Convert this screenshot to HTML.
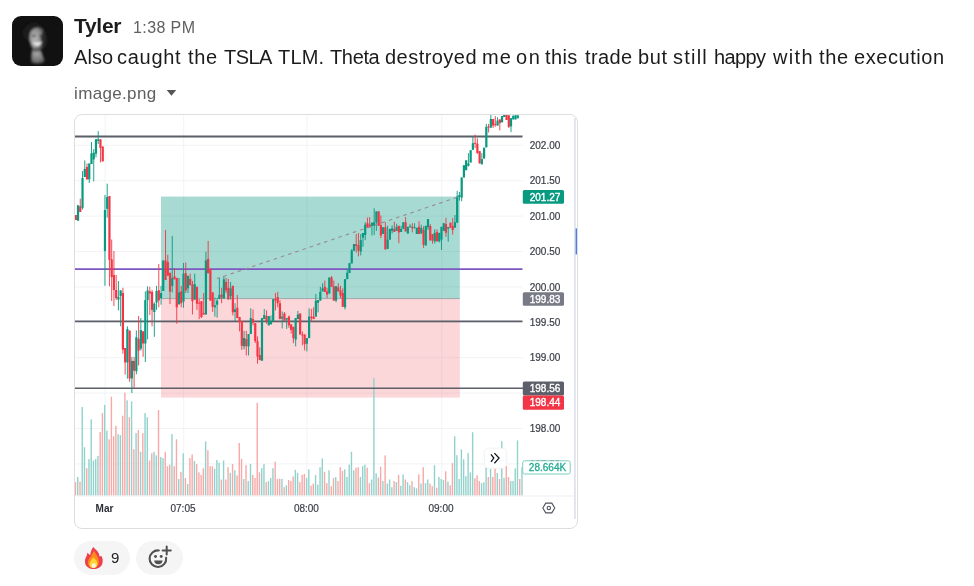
<!DOCTYPE html>
<html><head><meta charset="utf-8"><style>
html,body{margin:0;padding:0;background:#fff;}
body{width:974px;height:586px;overflow:hidden;position:relative;font-family:"Liberation Sans",sans-serif;color:#1d1c1d;}
.a{position:absolute;white-space:nowrap;will-change:transform;}
</style></head><body>
<div class="a" style="left:12px;top:16px;width:51px;height:50px;border-radius:9px;background:#111;overflow:hidden">
<svg width="51" height="50" viewBox="0 0 51 50">
<defs>
<radialGradient id="fg" cx="0.35" cy="0.45" r="0.7"><stop offset="0" stop-color="#b8b8b8"/><stop offset="0.55" stop-color="#8c8c8c"/><stop offset="1" stop-color="#1a1a1a"/></radialGradient>
<radialGradient id="ng" cx="0.4" cy="0.3" r="0.8"><stop offset="0" stop-color="#a8a8a8"/><stop offset="0.7" stop-color="#6a6a6a"/><stop offset="1" stop-color="#151515"/></radialGradient>
<filter id="bl"><feGaussianBlur stdDeviation="0.8"/></filter>
</defs>
<g filter="url(#bl)">
<ellipse cx="22" cy="17" rx="11" ry="10" fill="#1d1d1d"/>
<path d="M17.5 23 Q17 12 25.5 11.5 Q33.5 11.5 33.5 22 Q33.5 31 28.5 34.5 Q24 36 20.5 33 Q17.8 29 17.5 23 Z" fill="url(#fg)"/>
<ellipse cx="31.8" cy="24" rx="3.2" ry="8.5" fill="#222" opacity="0.85"/>
<ellipse cx="22" cy="20" rx="1.8" ry="1.1" fill="#333"/>
<ellipse cx="28.5" cy="20" rx="1.5" ry="1.1" fill="#333"/>
<path d="M20.5 25.8 Q25 27 30 25.6 Q28.5 30 25 30 Q21.8 30 20.5 25.8 Z" fill="#e4e4e4"/>
<path d="M20 33.5 Q24 36.5 29 34.5 L33.5 47 Q26 49 19.5 47 Q18.5 40 20 33.5 Z" fill="url(#ng)"/>
</g>
</svg></div>
<div class="a" style="left:74px;top:15px;font-size:21px;line-height:21px;font-weight:bold;letter-spacing:-0.3px;color:#1d1c1d">Tyler</div>
<div class="a" style="left:133px;top:20px;font-size:16px;line-height:16px;letter-spacing:0.4px;color:#616061">1:38 PM</div>
<div class="a" style="left:74px;top:47px;font-size:20px;line-height:20px;color:#1d1c1d;letter-spacing:0.067px">Also</div>
<div class="a" style="left:117px;top:47px;font-size:20px;line-height:20px;color:#1d1c1d;letter-spacing:0.720px">caught</div>
<div class="a" style="left:188px;top:47px;font-size:20px;line-height:20px;color:#1d1c1d;letter-spacing:0.700px">the</div>
<div class="a" style="left:224px;top:47px;font-size:20px;line-height:20px;color:#1d1c1d;letter-spacing:-0.533px">TSLA</div>
<div class="a" style="left:278px;top:47px;font-size:20px;line-height:20px;color:#1d1c1d;letter-spacing:0.200px">TLM.</div>
<div class="a" style="left:330px;top:47px;font-size:20px;line-height:20px;color:#1d1c1d;letter-spacing:-0.350px">Theta</div>
<div class="a" style="left:385px;top:47px;font-size:20px;line-height:20px;color:#1d1c1d;letter-spacing:0.463px">destroyed</div>
<div class="a" style="left:482px;top:47px;font-size:20px;line-height:20px;color:#1d1c1d;letter-spacing:1.200px">me</div>
<div class="a" style="left:516px;top:47px;font-size:20px;line-height:20px;color:#1d1c1d;letter-spacing:1.700px">on</div>
<div class="a" style="left:545px;top:47px;font-size:20px;line-height:20px;color:#1d1c1d;letter-spacing:0.400px">this</div>
<div class="a" style="left:585px;top:47px;font-size:20px;line-height:20px;color:#1d1c1d;letter-spacing:0.375px">trade</div>
<div class="a" style="left:638px;top:47px;font-size:20px;line-height:20px;color:#1d1c1d;letter-spacing:0.650px">but</div>
<div class="a" style="left:673px;top:47px;font-size:20px;line-height:20px;color:#1d1c1d;letter-spacing:1.225px">still</div>
<div class="a" style="left:714px;top:47px;font-size:20px;line-height:20px;color:#1d1c1d;letter-spacing:-0.600px">happy</div>
<div class="a" style="left:773px;top:47px;font-size:20px;line-height:20px;color:#1d1c1d;letter-spacing:1.333px">with</div>
<div class="a" style="left:819px;top:47px;font-size:20px;line-height:20px;color:#1d1c1d;letter-spacing:0.650px">the</div>
<div class="a" style="left:854px;top:47px;font-size:20px;line-height:20px;color:#1d1c1d;letter-spacing:0.562px">execution</div>
<div class="a" style="left:74px;top:85px;font-size:17px;line-height:17px;letter-spacing:0.35px;color:#616061">image.png</div>
<svg class="a" style="left:0;top:0" width="974" height="586">
<path d="M166.7 89.9 L176.2 89.9 L171.45 95.8 Z" fill="#555"/>
</svg>
<div class="a" style="left:74px;top:114px;width:502px;height:413px;border:1px solid #dddddd;border-radius:8px;overflow:hidden;background:#fff">
<svg width="502" height="413" viewBox="75 115 502 413" style="display:block;font-family:'Liberation Sans',sans-serif">
<defs><filter id="sh" x="-50%" y="-50%" width="200%" height="200%"><feGaussianBlur stdDeviation="1.2"/></filter></defs>
<line x1="75" y1="145.3" x2="523" y2="145.3" stroke="#f2f3f6" stroke-width="1"/>
<line x1="75" y1="180.7" x2="523" y2="180.7" stroke="#f2f3f6" stroke-width="1"/>
<line x1="75" y1="216.1" x2="523" y2="216.1" stroke="#f2f3f6" stroke-width="1"/>
<line x1="75" y1="251.5" x2="523" y2="251.5" stroke="#f2f3f6" stroke-width="1"/>
<line x1="75" y1="286.9" x2="523" y2="286.9" stroke="#f2f3f6" stroke-width="1"/>
<line x1="75" y1="322.3" x2="523" y2="322.3" stroke="#f2f3f6" stroke-width="1"/>
<line x1="75" y1="357.7" x2="523" y2="357.7" stroke="#f2f3f6" stroke-width="1"/>
<line x1="75" y1="393.1" x2="523" y2="393.1" stroke="#f2f3f6" stroke-width="1"/>
<line x1="75" y1="428.5" x2="523" y2="428.5" stroke="#f2f3f6" stroke-width="1"/>
<line x1="75" y1="463.9" x2="523" y2="463.9" stroke="#f2f3f6" stroke-width="1"/>
<line x1="105.2" y1="115" x2="105.2" y2="496" stroke="#f2f3f6" stroke-width="1"/>
<line x1="183.7" y1="115" x2="183.7" y2="496" stroke="#f2f3f6" stroke-width="1"/>
<line x1="306.9" y1="115" x2="306.9" y2="496" stroke="#f2f3f6" stroke-width="1"/>
<line x1="441.8" y1="115" x2="441.8" y2="496" stroke="#f2f3f6" stroke-width="1"/>
<rect x="161" y="196.6" width="298.8" height="102" fill="#089981" fill-opacity="0.36"/>
<rect x="161" y="298.6" width="298.8" height="99" fill="#f23645" fill-opacity="0.2"/>
<line x1="161" y1="298.6" x2="459.8" y2="298.6" stroke="#787b86" stroke-opacity="0.55" stroke-width="1"/>
<rect x="74.80" y="482.1" width="1.4" height="13.5" fill="#f7a9a7"/>
<rect x="77.04" y="477.0" width="1.4" height="18.6" fill="#92d2cc"/>
<rect x="79.29" y="481.6" width="1.4" height="14.0" fill="#f7a9a7"/>
<rect x="81.53" y="407.0" width="1.4" height="88.6" fill="#92d2cc"/>
<rect x="83.77" y="447.2" width="1.4" height="48.4" fill="#92d2cc"/>
<rect x="86.02" y="468.2" width="1.4" height="27.4" fill="#f7a9a7"/>
<rect x="88.26" y="459.0" width="1.4" height="36.6" fill="#92d2cc"/>
<rect x="90.51" y="419.3" width="1.4" height="76.3" fill="#92d2cc"/>
<rect x="92.75" y="460.5" width="1.4" height="35.1" fill="#92d2cc"/>
<rect x="94.99" y="459.0" width="1.4" height="36.6" fill="#92d2cc"/>
<rect x="97.24" y="455.9" width="1.4" height="39.7" fill="#92d2cc"/>
<rect x="99.48" y="432.1" width="1.4" height="63.5" fill="#f7a9a7"/>
<rect x="101.72" y="413.1" width="1.4" height="82.5" fill="#f7a9a7"/>
<rect x="103.97" y="404.9" width="1.4" height="90.7" fill="#92d2cc"/>
<rect x="106.21" y="430.6" width="1.4" height="65.0" fill="#92d2cc"/>
<rect x="108.45" y="439.3" width="1.4" height="56.3" fill="#f7a9a7"/>
<rect x="110.70" y="396.7" width="1.4" height="98.9" fill="#f7a9a7"/>
<rect x="112.94" y="436.2" width="1.4" height="59.4" fill="#f7a9a7"/>
<rect x="115.18" y="425.9" width="1.4" height="69.7" fill="#f7a9a7"/>
<rect x="117.43" y="434.1" width="1.4" height="61.5" fill="#92d2cc"/>
<rect x="119.67" y="435.2" width="1.4" height="60.4" fill="#92d2cc"/>
<rect x="121.92" y="415.7" width="1.4" height="79.9" fill="#f7a9a7"/>
<rect x="124.16" y="392.6" width="1.4" height="103.0" fill="#f7a9a7"/>
<rect x="126.40" y="400.3" width="1.4" height="95.3" fill="#92d2cc"/>
<rect x="128.65" y="417.2" width="1.4" height="78.4" fill="#f7a9a7"/>
<rect x="130.89" y="401.3" width="1.4" height="94.3" fill="#92d2cc"/>
<rect x="133.13" y="449.2" width="1.4" height="46.4" fill="#f7a9a7"/>
<rect x="135.38" y="433.1" width="1.4" height="62.5" fill="#92d2cc"/>
<rect x="137.62" y="430.0" width="1.4" height="65.6" fill="#f7a9a7"/>
<rect x="139.86" y="451.8" width="1.4" height="43.8" fill="#92d2cc"/>
<rect x="142.11" y="433.1" width="1.4" height="62.5" fill="#f7a9a7"/>
<rect x="144.35" y="413.1" width="1.4" height="82.5" fill="#92d2cc"/>
<rect x="146.60" y="417.2" width="1.4" height="78.4" fill="#92d2cc"/>
<rect x="148.84" y="460.5" width="1.4" height="35.1" fill="#f7a9a7"/>
<rect x="151.08" y="453.3" width="1.4" height="42.3" fill="#f7a9a7"/>
<rect x="153.33" y="451.8" width="1.4" height="43.8" fill="#92d2cc"/>
<rect x="155.57" y="455.4" width="1.4" height="40.2" fill="#92d2cc"/>
<rect x="157.81" y="410.0" width="1.4" height="85.6" fill="#f7a9a7"/>
<rect x="160.06" y="456.9" width="1.4" height="38.7" fill="#92d2cc"/>
<rect x="162.30" y="458.0" width="1.4" height="37.6" fill="#92d2cc"/>
<rect x="164.54" y="451.8" width="1.4" height="43.8" fill="#f7a9a7"/>
<rect x="166.79" y="466.2" width="1.4" height="29.4" fill="#f7a9a7"/>
<rect x="169.03" y="464.6" width="1.4" height="31.0" fill="#f7a9a7"/>
<rect x="171.27" y="434.1" width="1.4" height="61.5" fill="#92d2cc"/>
<rect x="173.52" y="466.2" width="1.4" height="29.4" fill="#f7a9a7"/>
<rect x="175.76" y="439.3" width="1.4" height="56.3" fill="#f7a9a7"/>
<rect x="178.01" y="479.0" width="1.4" height="16.6" fill="#92d2cc"/>
<rect x="180.25" y="471.8" width="1.4" height="23.8" fill="#f7a9a7"/>
<rect x="182.49" y="453.3" width="1.4" height="42.3" fill="#92d2cc"/>
<rect x="184.74" y="478.0" width="1.4" height="17.6" fill="#f7a9a7"/>
<rect x="186.98" y="484.1" width="1.4" height="11.5" fill="#92d2cc"/>
<rect x="189.22" y="458.0" width="1.4" height="37.6" fill="#f7a9a7"/>
<rect x="191.47" y="454.4" width="1.4" height="41.2" fill="#f7a9a7"/>
<rect x="193.71" y="461.0" width="1.4" height="34.6" fill="#92d2cc"/>
<rect x="195.95" y="464.1" width="1.4" height="31.5" fill="#f7a9a7"/>
<rect x="198.20" y="472.3" width="1.4" height="23.3" fill="#f7a9a7"/>
<rect x="200.44" y="474.9" width="1.4" height="20.7" fill="#f7a9a7"/>
<rect x="202.69" y="468.2" width="1.4" height="27.4" fill="#f7a9a7"/>
<rect x="204.93" y="441.4" width="1.4" height="54.2" fill="#92d2cc"/>
<rect x="207.17" y="450.3" width="1.4" height="45.3" fill="#f7a9a7"/>
<rect x="209.42" y="466.2" width="1.4" height="29.4" fill="#f7a9a7"/>
<rect x="211.66" y="466.2" width="1.4" height="29.4" fill="#f7a9a7"/>
<rect x="213.90" y="468.7" width="1.4" height="26.9" fill="#92d2cc"/>
<rect x="216.15" y="460.0" width="1.4" height="35.6" fill="#92d2cc"/>
<rect x="218.39" y="462.6" width="1.4" height="33.0" fill="#92d2cc"/>
<rect x="220.63" y="479.5" width="1.4" height="16.1" fill="#f7a9a7"/>
<rect x="222.88" y="460.5" width="1.4" height="35.1" fill="#92d2cc"/>
<rect x="225.12" y="479.5" width="1.4" height="16.1" fill="#f7a9a7"/>
<rect x="227.36" y="467.2" width="1.4" height="28.4" fill="#f7a9a7"/>
<rect x="229.61" y="472.9" width="1.4" height="22.7" fill="#92d2cc"/>
<rect x="231.85" y="464.1" width="1.4" height="31.5" fill="#f7a9a7"/>
<rect x="234.10" y="470.3" width="1.4" height="25.3" fill="#92d2cc"/>
<rect x="236.34" y="475.4" width="1.4" height="20.2" fill="#f7a9a7"/>
<rect x="238.58" y="443.0" width="1.4" height="52.6" fill="#f7a9a7"/>
<rect x="240.83" y="459.0" width="1.4" height="36.6" fill="#f7a9a7"/>
<rect x="243.07" y="479.0" width="1.4" height="16.6" fill="#92d2cc"/>
<rect x="245.31" y="465.2" width="1.4" height="30.4" fill="#f7a9a7"/>
<rect x="247.56" y="481.1" width="1.4" height="14.5" fill="#92d2cc"/>
<rect x="249.80" y="464.1" width="1.4" height="31.5" fill="#92d2cc"/>
<rect x="252.04" y="474.9" width="1.4" height="20.7" fill="#f7a9a7"/>
<rect x="254.29" y="478.0" width="1.4" height="17.6" fill="#f7a9a7"/>
<rect x="256.53" y="402.8" width="1.4" height="92.8" fill="#f7a9a7"/>
<rect x="258.78" y="472.3" width="1.4" height="23.3" fill="#f7a9a7"/>
<rect x="261.02" y="468.2" width="1.4" height="27.4" fill="#92d2cc"/>
<rect x="263.26" y="464.1" width="1.4" height="31.5" fill="#92d2cc"/>
<rect x="265.51" y="482.1" width="1.4" height="13.5" fill="#f7a9a7"/>
<rect x="267.75" y="481.1" width="1.4" height="14.5" fill="#92d2cc"/>
<rect x="269.99" y="478.0" width="1.4" height="17.6" fill="#92d2cc"/>
<rect x="272.24" y="468.2" width="1.4" height="27.4" fill="#92d2cc"/>
<rect x="274.48" y="461.6" width="1.4" height="34.0" fill="#f7a9a7"/>
<rect x="276.72" y="479.0" width="1.4" height="16.6" fill="#f7a9a7"/>
<rect x="278.97" y="478.8" width="1.4" height="16.8" fill="#f7a9a7"/>
<rect x="281.21" y="478.8" width="1.4" height="16.8" fill="#92d2cc"/>
<rect x="283.45" y="487.2" width="1.4" height="8.4" fill="#f7a9a7"/>
<rect x="285.70" y="485.2" width="1.4" height="10.4" fill="#92d2cc"/>
<rect x="287.94" y="480.0" width="1.4" height="15.6" fill="#f7a9a7"/>
<rect x="290.19" y="481.1" width="1.4" height="14.5" fill="#f7a9a7"/>
<rect x="292.43" y="476.4" width="1.4" height="19.2" fill="#f7a9a7"/>
<rect x="294.67" y="469.8" width="1.4" height="25.8" fill="#92d2cc"/>
<rect x="296.92" y="472.9" width="1.4" height="22.7" fill="#92d2cc"/>
<rect x="299.16" y="482.1" width="1.4" height="13.5" fill="#f7a9a7"/>
<rect x="301.40" y="474.9" width="1.4" height="20.7" fill="#f7a9a7"/>
<rect x="303.65" y="473.9" width="1.4" height="21.7" fill="#f7a9a7"/>
<rect x="305.89" y="478.0" width="1.4" height="17.6" fill="#92d2cc"/>
<rect x="308.13" y="469.3" width="1.4" height="26.3" fill="#92d2cc"/>
<rect x="310.38" y="485.7" width="1.4" height="9.9" fill="#f7a9a7"/>
<rect x="312.62" y="483.6" width="1.4" height="12.0" fill="#f7a9a7"/>
<rect x="314.87" y="474.9" width="1.4" height="20.7" fill="#92d2cc"/>
<rect x="317.11" y="484.7" width="1.4" height="10.9" fill="#92d2cc"/>
<rect x="319.35" y="467.2" width="1.4" height="28.4" fill="#92d2cc"/>
<rect x="321.60" y="458.5" width="1.4" height="37.1" fill="#92d2cc"/>
<rect x="323.84" y="471.8" width="1.4" height="23.8" fill="#f7a9a7"/>
<rect x="326.08" y="483.1" width="1.4" height="12.5" fill="#f7a9a7"/>
<rect x="328.33" y="470.3" width="1.4" height="25.3" fill="#92d2cc"/>
<rect x="330.57" y="486.2" width="1.4" height="9.4" fill="#f7a9a7"/>
<rect x="332.81" y="478.0" width="1.4" height="17.6" fill="#f7a9a7"/>
<rect x="335.06" y="477.0" width="1.4" height="18.6" fill="#92d2cc"/>
<rect x="337.30" y="481.1" width="1.4" height="14.5" fill="#f7a9a7"/>
<rect x="339.54" y="467.2" width="1.4" height="28.4" fill="#f7a9a7"/>
<rect x="341.79" y="470.8" width="1.4" height="24.8" fill="#f7a9a7"/>
<rect x="344.03" y="469.3" width="1.4" height="26.3" fill="#92d2cc"/>
<rect x="346.28" y="477.0" width="1.4" height="18.6" fill="#92d2cc"/>
<rect x="348.52" y="464.6" width="1.4" height="31.0" fill="#92d2cc"/>
<rect x="350.76" y="451.8" width="1.4" height="43.8" fill="#92d2cc"/>
<rect x="353.01" y="470.3" width="1.4" height="25.3" fill="#92d2cc"/>
<rect x="355.25" y="467.7" width="1.4" height="27.9" fill="#f7a9a7"/>
<rect x="357.49" y="467.2" width="1.4" height="28.4" fill="#f7a9a7"/>
<rect x="359.74" y="477.0" width="1.4" height="18.6" fill="#92d2cc"/>
<rect x="361.98" y="466.2" width="1.4" height="29.4" fill="#92d2cc"/>
<rect x="364.22" y="464.6" width="1.4" height="31.0" fill="#92d2cc"/>
<rect x="366.47" y="467.7" width="1.4" height="27.9" fill="#f7a9a7"/>
<rect x="368.71" y="483.1" width="1.4" height="12.5" fill="#f7a9a7"/>
<rect x="370.96" y="479.5" width="1.4" height="16.1" fill="#92d2cc"/>
<rect x="373.20" y="378.0" width="1.4" height="117.6" fill="#92d2cc"/>
<rect x="375.44" y="473.4" width="1.4" height="22.2" fill="#92d2cc"/>
<rect x="377.69" y="477.5" width="1.4" height="18.1" fill="#f7a9a7"/>
<rect x="379.93" y="466.7" width="1.4" height="28.9" fill="#f7a9a7"/>
<rect x="382.17" y="481.1" width="1.4" height="14.5" fill="#92d2cc"/>
<rect x="384.42" y="455.4" width="1.4" height="40.2" fill="#f7a9a7"/>
<rect x="386.66" y="483.6" width="1.4" height="12.0" fill="#92d2cc"/>
<rect x="388.90" y="479.5" width="1.4" height="16.1" fill="#92d2cc"/>
<rect x="391.15" y="487.2" width="1.4" height="8.4" fill="#92d2cc"/>
<rect x="393.39" y="481.1" width="1.4" height="14.5" fill="#f7a9a7"/>
<rect x="395.63" y="482.1" width="1.4" height="13.5" fill="#92d2cc"/>
<rect x="397.88" y="474.9" width="1.4" height="20.7" fill="#f7a9a7"/>
<rect x="400.12" y="485.7" width="1.4" height="9.9" fill="#92d2cc"/>
<rect x="402.37" y="474.4" width="1.4" height="21.2" fill="#92d2cc"/>
<rect x="404.61" y="479.5" width="1.4" height="16.1" fill="#f7a9a7"/>
<rect x="406.85" y="482.1" width="1.4" height="13.5" fill="#92d2cc"/>
<rect x="409.10" y="485.2" width="1.4" height="10.4" fill="#92d2cc"/>
<rect x="411.34" y="481.1" width="1.4" height="14.5" fill="#f7a9a7"/>
<rect x="413.58" y="487.2" width="1.4" height="8.4" fill="#92d2cc"/>
<rect x="415.83" y="488.3" width="1.4" height="7.3" fill="#92d2cc"/>
<rect x="418.07" y="474.4" width="1.4" height="21.2" fill="#f7a9a7"/>
<rect x="420.31" y="483.6" width="1.4" height="12.0" fill="#92d2cc"/>
<rect x="422.56" y="467.2" width="1.4" height="28.4" fill="#f7a9a7"/>
<rect x="424.80" y="483.1" width="1.4" height="12.5" fill="#92d2cc"/>
<rect x="427.05" y="479.5" width="1.4" height="16.1" fill="#92d2cc"/>
<rect x="429.29" y="483.6" width="1.4" height="12.0" fill="#f7a9a7"/>
<rect x="431.53" y="486.2" width="1.4" height="9.4" fill="#f7a9a7"/>
<rect x="433.78" y="465.2" width="1.4" height="30.4" fill="#92d2cc"/>
<rect x="436.02" y="487.7" width="1.4" height="7.9" fill="#f7a9a7"/>
<rect x="438.26" y="477.0" width="1.4" height="18.6" fill="#92d2cc"/>
<rect x="440.51" y="479.0" width="1.4" height="16.6" fill="#92d2cc"/>
<rect x="442.75" y="480.0" width="1.4" height="15.6" fill="#92d2cc"/>
<rect x="444.99" y="471.3" width="1.4" height="24.3" fill="#f7a9a7"/>
<rect x="447.24" y="481.6" width="1.4" height="14.0" fill="#92d2cc"/>
<rect x="449.48" y="485.2" width="1.4" height="10.4" fill="#f7a9a7"/>
<rect x="451.72" y="463.1" width="1.4" height="32.5" fill="#f7a9a7"/>
<rect x="453.97" y="436.3" width="1.4" height="59.3" fill="#92d2cc"/>
<rect x="456.21" y="455.2" width="1.4" height="40.4" fill="#92d2cc"/>
<rect x="458.46" y="479.0" width="1.4" height="16.6" fill="#92d2cc"/>
<rect x="460.70" y="449.4" width="1.4" height="46.2" fill="#92d2cc"/>
<rect x="462.94" y="459.3" width="1.4" height="36.3" fill="#92d2cc"/>
<rect x="465.19" y="476.1" width="1.4" height="19.5" fill="#92d2cc"/>
<rect x="467.43" y="453.1" width="1.4" height="42.5" fill="#92d2cc"/>
<rect x="469.67" y="472.4" width="1.4" height="23.2" fill="#92d2cc"/>
<rect x="471.92" y="432.2" width="1.4" height="63.4" fill="#92d2cc"/>
<rect x="474.16" y="478.2" width="1.4" height="17.4" fill="#f7a9a7"/>
<rect x="476.40" y="475.3" width="1.4" height="20.3" fill="#f7a9a7"/>
<rect x="478.65" y="481.1" width="1.4" height="14.5" fill="#f7a9a7"/>
<rect x="480.89" y="483.1" width="1.4" height="12.5" fill="#92d2cc"/>
<rect x="483.14" y="482.3" width="1.4" height="13.3" fill="#92d2cc"/>
<rect x="485.38" y="467.5" width="1.4" height="28.1" fill="#92d2cc"/>
<rect x="487.62" y="477.0" width="1.4" height="18.6" fill="#f7a9a7"/>
<rect x="489.87" y="469.2" width="1.4" height="26.4" fill="#92d2cc"/>
<rect x="492.11" y="477.0" width="1.4" height="18.6" fill="#f7a9a7"/>
<rect x="494.35" y="468.7" width="1.4" height="26.9" fill="#f7a9a7"/>
<rect x="496.60" y="472.9" width="1.4" height="22.7" fill="#92d2cc"/>
<rect x="498.84" y="479.0" width="1.4" height="16.6" fill="#f7a9a7"/>
<rect x="501.08" y="441.2" width="1.4" height="54.4" fill="#92d2cc"/>
<rect x="503.33" y="477.8" width="1.4" height="17.8" fill="#92d2cc"/>
<rect x="505.57" y="465.9" width="1.4" height="29.7" fill="#f7a9a7"/>
<rect x="507.81" y="477.0" width="1.4" height="18.6" fill="#f7a9a7"/>
<rect x="510.06" y="481.1" width="1.4" height="14.5" fill="#92d2cc"/>
<rect x="512.30" y="481.1" width="1.4" height="14.5" fill="#92d2cc"/>
<rect x="514.55" y="468.3" width="1.4" height="27.3" fill="#92d2cc"/>
<rect x="516.79" y="440.4" width="1.4" height="55.2" fill="#92d2cc"/>
<rect x="519.03" y="479.0" width="1.4" height="16.6" fill="#f7a9a7"/>
<rect x="521.28" y="467.1" width="1.4" height="28.5" fill="#92d2cc"/>
<line x1="75" y1="136.5" x2="522.5" y2="136.5" stroke="#5d5f68" stroke-width="1.8"/>
<line x1="75" y1="321.4" x2="522.5" y2="321.4" stroke="#5d5f68" stroke-width="1.8"/>
<line x1="75" y1="388.2" x2="523" y2="388.2" stroke="#5d5f68" stroke-width="1.6"/>
<line x1="75" y1="269.1" x2="522.5" y2="269.1" stroke="#7e57c2" stroke-width="1.6"/>
<rect x="75.28" y="215.0" width="1" height="5.0" fill="#f23645" fill-opacity="0.9"/>
<rect x="74.68" y="215.0" width="2.2" height="5.0" fill="#f23645"/>
<rect x="77.53" y="205.3" width="1" height="15.4" fill="#089981" fill-opacity="0.9"/>
<rect x="76.93" y="205.3" width="2.2" height="15.4" fill="#089981"/>
<rect x="79.77" y="198.6" width="1" height="13.4" fill="#f23645" fill-opacity="0.9"/>
<rect x="79.17" y="206.3" width="2.2" height="5.7" fill="#f23645"/>
<rect x="82.02" y="171.0" width="1" height="38.5" fill="#089981" fill-opacity="0.9"/>
<rect x="81.42" y="178.0" width="2.2" height="29.8" fill="#089981"/>
<rect x="84.26" y="160.4" width="1" height="16.6" fill="#089981" fill-opacity="0.9"/>
<rect x="83.66" y="169.0" width="2.2" height="8.0" fill="#089981"/>
<rect x="86.50" y="163.5" width="1" height="15.9" fill="#f23645" fill-opacity="0.9"/>
<rect x="85.90" y="167.0" width="2.2" height="12.4" fill="#f23645"/>
<rect x="88.75" y="163.5" width="1" height="19.5" fill="#089981" fill-opacity="0.9"/>
<rect x="88.15" y="163.5" width="2.2" height="15.9" fill="#089981"/>
<rect x="90.99" y="142.0" width="1" height="22.0" fill="#089981" fill-opacity="0.9"/>
<rect x="90.39" y="153.2" width="2.2" height="10.8" fill="#089981"/>
<rect x="93.23" y="149.0" width="1" height="32.4" fill="#089981" fill-opacity="0.9"/>
<rect x="92.63" y="152.7" width="2.2" height="6.7" fill="#089981"/>
<rect x="95.48" y="139.3" width="1" height="18.0" fill="#089981" fill-opacity="0.9"/>
<rect x="94.88" y="139.3" width="2.2" height="14.4" fill="#089981"/>
<rect x="97.72" y="131.1" width="1" height="12.9" fill="#089981" fill-opacity="0.9"/>
<rect x="97.12" y="139.3" width="2.2" height="1.7" fill="#089981"/>
<rect x="99.96" y="139.3" width="1" height="23.1" fill="#f23645" fill-opacity="0.9"/>
<rect x="99.36" y="139.3" width="2.2" height="8.7" fill="#f23645"/>
<rect x="102.21" y="146.5" width="1" height="14.9" fill="#f23645" fill-opacity="0.9"/>
<rect x="101.61" y="146.5" width="2.2" height="14.9" fill="#f23645"/>
<rect x="104.45" y="195.0" width="1" height="90.8" fill="#089981" fill-opacity="0.9"/>
<rect x="103.85" y="210.0" width="2.2" height="41.0" fill="#089981"/>
<rect x="106.69" y="183.7" width="1" height="33.9" fill="#089981" fill-opacity="0.9"/>
<rect x="106.09" y="197.0" width="2.2" height="11.9" fill="#089981"/>
<rect x="108.94" y="196.0" width="1" height="90.3" fill="#f23645" fill-opacity="0.9"/>
<rect x="108.34" y="196.0" width="2.2" height="63.9" fill="#f23645"/>
<rect x="111.18" y="239.5" width="1" height="61.5" fill="#f23645" fill-opacity="0.9"/>
<rect x="110.58" y="259.3" width="2.2" height="17.8" fill="#f23645"/>
<rect x="113.42" y="251.0" width="1" height="55.0" fill="#f23645" fill-opacity="0.9"/>
<rect x="112.82" y="275.0" width="2.2" height="15.0" fill="#f23645"/>
<rect x="115.67" y="275.0" width="1" height="25.0" fill="#f23645" fill-opacity="0.9"/>
<rect x="115.07" y="290.0" width="2.2" height="8.2" fill="#f23645"/>
<rect x="117.91" y="281.0" width="1" height="29.4" fill="#089981" fill-opacity="0.9"/>
<rect x="117.31" y="296.8" width="2.2" height="2.8" fill="#089981"/>
<rect x="120.15" y="290.4" width="1" height="35.9" fill="#089981" fill-opacity="0.9"/>
<rect x="119.55" y="290.4" width="2.2" height="5.6" fill="#089981"/>
<rect x="122.40" y="287.8" width="1" height="65.9" fill="#f23645" fill-opacity="0.9"/>
<rect x="121.80" y="293.0" width="2.2" height="56.6" fill="#f23645"/>
<rect x="124.64" y="348.0" width="1" height="26.6" fill="#f23645" fill-opacity="0.9"/>
<rect x="124.04" y="348.0" width="2.2" height="14.4" fill="#f23645"/>
<rect x="126.89" y="326.3" width="1" height="52.4" fill="#089981" fill-opacity="0.9"/>
<rect x="126.29" y="329.0" width="2.2" height="33.4" fill="#089981"/>
<rect x="129.13" y="330.6" width="1" height="51.2" fill="#f23645" fill-opacity="0.9"/>
<rect x="128.53" y="330.6" width="2.2" height="47.8" fill="#f23645"/>
<rect x="131.37" y="356.8" width="1" height="36.3" fill="#089981" fill-opacity="0.9"/>
<rect x="130.77" y="360.9" width="2.2" height="17.5" fill="#089981"/>
<rect x="133.62" y="356.8" width="1" height="32.2" fill="#f23645" fill-opacity="0.9"/>
<rect x="133.02" y="360.9" width="2.2" height="9.8" fill="#f23645"/>
<rect x="135.86" y="330.5" width="1" height="43.8" fill="#089981" fill-opacity="0.9"/>
<rect x="135.26" y="337.3" width="2.2" height="33.9" fill="#089981"/>
<rect x="138.10" y="316.0" width="1" height="49.5" fill="#f23645" fill-opacity="0.9"/>
<rect x="137.50" y="338.8" width="2.2" height="11.8" fill="#f23645"/>
<rect x="140.35" y="318.0" width="1" height="32.6" fill="#089981" fill-opacity="0.9"/>
<rect x="139.75" y="330.1" width="2.2" height="18.5" fill="#089981"/>
<rect x="142.59" y="331.0" width="1" height="25.8" fill="#f23645" fill-opacity="0.9"/>
<rect x="141.99" y="331.4" width="2.2" height="12.1" fill="#f23645"/>
<rect x="144.83" y="291.4" width="1" height="70.6" fill="#089981" fill-opacity="0.9"/>
<rect x="144.23" y="300.1" width="2.2" height="43.4" fill="#089981"/>
<rect x="147.08" y="286.3" width="1" height="53.0" fill="#089981" fill-opacity="0.9"/>
<rect x="146.48" y="290.4" width="2.2" height="9.7" fill="#089981"/>
<rect x="149.32" y="286.8" width="1" height="28.2" fill="#f23645" fill-opacity="0.9"/>
<rect x="148.72" y="291.4" width="2.2" height="2.1" fill="#f23645"/>
<rect x="151.56" y="289.9" width="1" height="36.4" fill="#f23645" fill-opacity="0.9"/>
<rect x="150.96" y="291.9" width="2.2" height="18.0" fill="#f23645"/>
<rect x="153.81" y="302.2" width="1" height="34.6" fill="#089981" fill-opacity="0.9"/>
<rect x="153.21" y="303.7" width="2.2" height="8.3" fill="#089981"/>
<rect x="156.05" y="285.8" width="1" height="24.1" fill="#089981" fill-opacity="0.9"/>
<rect x="155.45" y="291.0" width="2.2" height="11.5" fill="#089981"/>
<rect x="158.29" y="264.0" width="1" height="43.3" fill="#f23645" fill-opacity="0.9"/>
<rect x="157.69" y="290.2" width="2.2" height="10.2" fill="#f23645"/>
<rect x="160.54" y="285.9" width="1" height="18.8" fill="#089981" fill-opacity="0.9"/>
<rect x="159.94" y="293.0" width="2.2" height="5.2" fill="#089981"/>
<rect x="162.78" y="260.5" width="1" height="30.5" fill="#089981" fill-opacity="0.9"/>
<rect x="162.18" y="260.5" width="2.2" height="30.5" fill="#089981"/>
<rect x="165.02" y="230.0" width="1" height="50.0" fill="#f23645" fill-opacity="0.9"/>
<rect x="164.42" y="260.5" width="2.2" height="19.5" fill="#f23645"/>
<rect x="167.27" y="254.7" width="1" height="21.0" fill="#f23645" fill-opacity="0.9"/>
<rect x="166.67" y="262.0" width="2.2" height="13.7" fill="#f23645"/>
<rect x="169.51" y="272.8" width="1" height="31.2" fill="#f23645" fill-opacity="0.9"/>
<rect x="168.91" y="272.8" width="2.2" height="18.9" fill="#f23645"/>
<rect x="171.75" y="235.9" width="1" height="56.5" fill="#089981" fill-opacity="0.9"/>
<rect x="171.16" y="277.9" width="2.2" height="8.0" fill="#089981"/>
<rect x="174.00" y="268.5" width="1" height="10.8" fill="#f23645" fill-opacity="0.9"/>
<rect x="173.40" y="276.4" width="2.2" height="2.9" fill="#f23645"/>
<rect x="176.24" y="277.9" width="1" height="45.8" fill="#f23645" fill-opacity="0.9"/>
<rect x="175.64" y="277.9" width="2.2" height="29.4" fill="#f23645"/>
<rect x="178.49" y="278.0" width="1" height="26.7" fill="#089981" fill-opacity="0.9"/>
<rect x="177.89" y="292.4" width="2.2" height="11.8" fill="#089981"/>
<rect x="180.73" y="285.9" width="1" height="21.4" fill="#f23645" fill-opacity="0.9"/>
<rect x="180.13" y="291.4" width="2.2" height="11.8" fill="#f23645"/>
<rect x="182.97" y="263.0" width="1" height="44.8" fill="#089981" fill-opacity="0.9"/>
<rect x="182.37" y="273.7" width="2.2" height="28.0" fill="#089981"/>
<rect x="185.22" y="262.4" width="1" height="30.6" fill="#f23645" fill-opacity="0.9"/>
<rect x="184.62" y="273.2" width="2.2" height="17.2" fill="#f23645"/>
<rect x="187.46" y="275.8" width="1" height="17.2" fill="#089981" fill-opacity="0.9"/>
<rect x="186.86" y="275.8" width="2.2" height="12.5" fill="#089981"/>
<rect x="189.70" y="273.7" width="1" height="11.5" fill="#f23645" fill-opacity="0.9"/>
<rect x="189.10" y="278.9" width="2.2" height="6.3" fill="#f23645"/>
<rect x="191.95" y="280.9" width="1" height="33.6" fill="#f23645" fill-opacity="0.9"/>
<rect x="191.35" y="284.2" width="2.2" height="17.0" fill="#f23645"/>
<rect x="194.19" y="273.7" width="1" height="25.9" fill="#089981" fill-opacity="0.9"/>
<rect x="193.59" y="284.2" width="2.2" height="15.4" fill="#089981"/>
<rect x="196.43" y="286.8" width="1" height="23.1" fill="#f23645" fill-opacity="0.9"/>
<rect x="195.83" y="286.8" width="2.2" height="16.9" fill="#f23645"/>
<rect x="198.68" y="299.1" width="1" height="20.0" fill="#f23645" fill-opacity="0.9"/>
<rect x="198.08" y="302.7" width="2.2" height="1.0" fill="#f23645"/>
<rect x="200.92" y="301.2" width="1" height="16.8" fill="#f23645" fill-opacity="0.9"/>
<rect x="200.32" y="301.2" width="2.2" height="15.8" fill="#f23645"/>
<rect x="203.16" y="293.0" width="1" height="21.5" fill="#f23645" fill-opacity="0.9"/>
<rect x="202.56" y="313.0" width="2.2" height="1.5" fill="#f23645"/>
<rect x="205.41" y="251.7" width="1" height="62.8" fill="#089981" fill-opacity="0.9"/>
<rect x="204.81" y="260.4" width="2.2" height="54.1" fill="#089981"/>
<rect x="207.65" y="240.9" width="1" height="32.3" fill="#f23645" fill-opacity="0.9"/>
<rect x="207.05" y="258.9" width="2.2" height="14.3" fill="#f23645"/>
<rect x="209.89" y="269.1" width="1" height="31.5" fill="#f23645" fill-opacity="0.9"/>
<rect x="209.29" y="269.1" width="2.2" height="31.5" fill="#f23645"/>
<rect x="212.14" y="292.4" width="1" height="19.5" fill="#f23645" fill-opacity="0.9"/>
<rect x="211.54" y="292.4" width="2.2" height="14.4" fill="#f23645"/>
<rect x="214.38" y="297.6" width="1" height="19.0" fill="#089981" fill-opacity="0.9"/>
<rect x="213.78" y="305.3" width="2.2" height="2.0" fill="#089981"/>
<rect x="216.62" y="298.0" width="1" height="19.6" fill="#089981" fill-opacity="0.9"/>
<rect x="216.03" y="300.6" width="2.2" height="4.1" fill="#089981"/>
<rect x="218.87" y="277.8" width="1" height="21.3" fill="#089981" fill-opacity="0.9"/>
<rect x="218.27" y="295.0" width="2.2" height="4.1" fill="#089981"/>
<rect x="221.11" y="287.8" width="1" height="15.4" fill="#f23645" fill-opacity="0.9"/>
<rect x="220.51" y="294.5" width="2.2" height="3.1" fill="#f23645"/>
<rect x="223.36" y="276.3" width="1" height="22.3" fill="#089981" fill-opacity="0.9"/>
<rect x="222.76" y="279.4" width="2.2" height="19.2" fill="#089981"/>
<rect x="225.60" y="277.8" width="1" height="15.2" fill="#f23645" fill-opacity="0.9"/>
<rect x="225.00" y="282.0" width="2.2" height="8.4" fill="#f23645"/>
<rect x="227.84" y="278.9" width="1" height="21.2" fill="#f23645" fill-opacity="0.9"/>
<rect x="227.24" y="287.8" width="2.2" height="11.3" fill="#f23645"/>
<rect x="230.09" y="282.0" width="1" height="17.6" fill="#089981" fill-opacity="0.9"/>
<rect x="229.49" y="288.3" width="2.2" height="7.7" fill="#089981"/>
<rect x="232.33" y="285.8" width="1" height="29.7" fill="#f23645" fill-opacity="0.9"/>
<rect x="231.73" y="285.8" width="2.2" height="26.6" fill="#f23645"/>
<rect x="234.57" y="303.2" width="1" height="18.0" fill="#089981" fill-opacity="0.9"/>
<rect x="233.97" y="309.4" width="2.2" height="2.6" fill="#089981"/>
<rect x="236.82" y="295.0" width="1" height="23.1" fill="#f23645" fill-opacity="0.9"/>
<rect x="236.22" y="307.8" width="2.2" height="10.3" fill="#f23645"/>
<rect x="239.06" y="317.0" width="1" height="14.4" fill="#f23645" fill-opacity="0.9"/>
<rect x="238.46" y="317.0" width="2.2" height="5.2" fill="#f23645"/>
<rect x="241.30" y="321.2" width="1" height="28.7" fill="#f23645" fill-opacity="0.9"/>
<rect x="240.70" y="321.2" width="2.2" height="24.6" fill="#f23645"/>
<rect x="243.55" y="330.9" width="1" height="18.5" fill="#089981" fill-opacity="0.9"/>
<rect x="242.95" y="338.0" width="2.2" height="8.3" fill="#089981"/>
<rect x="245.79" y="330.9" width="1" height="24.6" fill="#f23645" fill-opacity="0.9"/>
<rect x="245.19" y="339.1" width="2.2" height="7.2" fill="#f23645"/>
<rect x="248.03" y="334.0" width="1" height="21.5" fill="#089981" fill-opacity="0.9"/>
<rect x="247.43" y="334.0" width="2.2" height="12.3" fill="#089981"/>
<rect x="250.28" y="308.3" width="1" height="25.7" fill="#089981" fill-opacity="0.9"/>
<rect x="249.68" y="318.0" width="2.2" height="16.0" fill="#089981"/>
<rect x="252.52" y="309.4" width="1" height="15.9" fill="#f23645" fill-opacity="0.9"/>
<rect x="251.92" y="319.1" width="2.2" height="3.6" fill="#f23645"/>
<rect x="254.76" y="323.2" width="1" height="19.8" fill="#f23645" fill-opacity="0.9"/>
<rect x="254.16" y="323.2" width="2.2" height="18.0" fill="#f23645"/>
<rect x="257.01" y="336.5" width="1" height="27.2" fill="#f23645" fill-opacity="0.9"/>
<rect x="256.41" y="341.2" width="2.2" height="15.4" fill="#f23645"/>
<rect x="259.25" y="347.3" width="1" height="12.8" fill="#f23645" fill-opacity="0.9"/>
<rect x="258.65" y="355.0" width="2.2" height="5.1" fill="#f23645"/>
<rect x="261.50" y="318.1" width="1" height="42.6" fill="#089981" fill-opacity="0.9"/>
<rect x="260.89" y="318.1" width="2.2" height="42.6" fill="#089981"/>
<rect x="263.74" y="308.9" width="1" height="10.2" fill="#089981" fill-opacity="0.9"/>
<rect x="263.14" y="315.0" width="2.2" height="4.1" fill="#089981"/>
<rect x="265.98" y="310.4" width="1" height="13.3" fill="#f23645" fill-opacity="0.9"/>
<rect x="265.38" y="316.0" width="2.2" height="5.2" fill="#f23645"/>
<rect x="268.23" y="316.0" width="1" height="9.3" fill="#089981" fill-opacity="0.9"/>
<rect x="267.63" y="316.0" width="2.2" height="9.3" fill="#089981"/>
<rect x="270.47" y="315.5" width="1" height="8.8" fill="#089981" fill-opacity="0.9"/>
<rect x="269.87" y="321.2" width="2.2" height="3.1" fill="#089981"/>
<rect x="272.71" y="299.1" width="1" height="22.1" fill="#089981" fill-opacity="0.9"/>
<rect x="272.11" y="299.1" width="2.2" height="22.1" fill="#089981"/>
<rect x="274.96" y="293.0" width="1" height="17.4" fill="#f23645" fill-opacity="0.9"/>
<rect x="274.36" y="299.1" width="2.2" height="1.5" fill="#f23645"/>
<rect x="277.20" y="291.9" width="1" height="15.4" fill="#f23645" fill-opacity="0.9"/>
<rect x="276.60" y="297.0" width="2.2" height="6.2" fill="#f23645"/>
<rect x="279.44" y="300.1" width="1" height="19.0" fill="#f23645" fill-opacity="0.9"/>
<rect x="278.84" y="303.2" width="2.2" height="15.9" fill="#f23645"/>
<rect x="281.69" y="311.4" width="1" height="17.0" fill="#089981" fill-opacity="0.9"/>
<rect x="281.09" y="316.6" width="2.2" height="2.0" fill="#089981"/>
<rect x="283.93" y="312.0" width="1" height="8.7" fill="#f23645" fill-opacity="0.9"/>
<rect x="283.33" y="313.5" width="2.2" height="7.2" fill="#f23645"/>
<rect x="286.17" y="318.1" width="1" height="10.8" fill="#089981" fill-opacity="0.9"/>
<rect x="285.57" y="318.1" width="2.2" height="1.5" fill="#089981"/>
<rect x="288.42" y="315.5" width="1" height="12.3" fill="#f23645" fill-opacity="0.9"/>
<rect x="287.82" y="316.6" width="2.2" height="8.7" fill="#f23645"/>
<rect x="290.66" y="324.3" width="1" height="9.2" fill="#f23645" fill-opacity="0.9"/>
<rect x="290.06" y="324.3" width="2.2" height="5.6" fill="#f23645"/>
<rect x="292.90" y="326.8" width="1" height="16.4" fill="#f23645" fill-opacity="0.9"/>
<rect x="292.30" y="326.8" width="2.2" height="11.3" fill="#f23645"/>
<rect x="295.15" y="318.1" width="1" height="28.2" fill="#089981" fill-opacity="0.9"/>
<rect x="294.55" y="318.1" width="2.2" height="21.5" fill="#089981"/>
<rect x="297.39" y="310.9" width="1" height="8.2" fill="#089981" fill-opacity="0.9"/>
<rect x="296.79" y="314.5" width="2.2" height="4.6" fill="#089981"/>
<rect x="299.63" y="313.5" width="1" height="21.0" fill="#f23645" fill-opacity="0.9"/>
<rect x="299.03" y="313.5" width="2.2" height="21.0" fill="#f23645"/>
<rect x="301.88" y="331.4" width="1" height="13.9" fill="#f23645" fill-opacity="0.9"/>
<rect x="301.28" y="334.5" width="2.2" height="1.0" fill="#f23645"/>
<rect x="304.12" y="334.5" width="1" height="15.9" fill="#f23645" fill-opacity="0.9"/>
<rect x="303.52" y="334.5" width="2.2" height="9.7" fill="#f23645"/>
<rect x="306.37" y="338.1" width="1" height="13.3" fill="#089981" fill-opacity="0.9"/>
<rect x="305.76" y="338.1" width="2.2" height="5.6" fill="#089981"/>
<rect x="308.61" y="308.3" width="1" height="29.8" fill="#089981" fill-opacity="0.9"/>
<rect x="308.01" y="316.6" width="2.2" height="21.5" fill="#089981"/>
<rect x="310.85" y="308.9" width="1" height="12.8" fill="#f23645" fill-opacity="0.9"/>
<rect x="310.25" y="316.6" width="2.2" height="1.5" fill="#f23645"/>
<rect x="313.10" y="307.3" width="1" height="11.8" fill="#f23645" fill-opacity="0.9"/>
<rect x="312.50" y="316.6" width="2.2" height="2.5" fill="#f23645"/>
<rect x="315.34" y="294.0" width="1" height="22.6" fill="#089981" fill-opacity="0.9"/>
<rect x="314.74" y="300.6" width="2.2" height="16.0" fill="#089981"/>
<rect x="317.58" y="300.1" width="1" height="12.3" fill="#089981" fill-opacity="0.9"/>
<rect x="316.98" y="300.1" width="2.2" height="2.6" fill="#089981"/>
<rect x="319.83" y="286.8" width="1" height="13.8" fill="#089981" fill-opacity="0.9"/>
<rect x="319.23" y="291.9" width="2.2" height="8.7" fill="#089981"/>
<rect x="322.07" y="283.2" width="1" height="8.2" fill="#089981" fill-opacity="0.9"/>
<rect x="321.47" y="288.3" width="2.2" height="3.1" fill="#089981"/>
<rect x="324.31" y="280.6" width="1" height="11.3" fill="#f23645" fill-opacity="0.9"/>
<rect x="323.71" y="286.8" width="2.2" height="5.1" fill="#f23645"/>
<rect x="326.56" y="287.8" width="1" height="10.2" fill="#f23645" fill-opacity="0.9"/>
<rect x="325.96" y="291.4" width="2.2" height="3.1" fill="#f23645"/>
<rect x="328.80" y="277.5" width="1" height="16.0" fill="#089981" fill-opacity="0.9"/>
<rect x="328.20" y="277.5" width="2.2" height="16.0" fill="#089981"/>
<rect x="331.04" y="276.0" width="1" height="10.8" fill="#f23645" fill-opacity="0.9"/>
<rect x="330.44" y="277.5" width="2.2" height="9.3" fill="#f23645"/>
<rect x="333.29" y="280.6" width="1" height="20.0" fill="#f23645" fill-opacity="0.9"/>
<rect x="332.69" y="286.3" width="2.2" height="14.3" fill="#f23645"/>
<rect x="335.53" y="286.3" width="1" height="15.9" fill="#089981" fill-opacity="0.9"/>
<rect x="334.93" y="286.3" width="2.2" height="14.3" fill="#089981"/>
<rect x="337.77" y="283.2" width="1" height="8.2" fill="#f23645" fill-opacity="0.9"/>
<rect x="337.17" y="287.3" width="2.2" height="4.1" fill="#f23645"/>
<rect x="340.02" y="285.8" width="1" height="12.2" fill="#f23645" fill-opacity="0.9"/>
<rect x="339.42" y="290.4" width="2.2" height="5.1" fill="#f23645"/>
<rect x="342.26" y="288.3" width="1" height="18.5" fill="#f23645" fill-opacity="0.9"/>
<rect x="341.66" y="293.0" width="2.2" height="13.8" fill="#f23645"/>
<rect x="344.50" y="279.1" width="1" height="30.3" fill="#089981" fill-opacity="0.9"/>
<rect x="343.90" y="279.1" width="2.2" height="28.2" fill="#089981"/>
<rect x="346.75" y="269.0" width="1" height="10.1" fill="#089981" fill-opacity="0.9"/>
<rect x="346.15" y="272.7" width="2.2" height="6.4" fill="#089981"/>
<rect x="348.99" y="263.1" width="1" height="9.9" fill="#089981" fill-opacity="0.9"/>
<rect x="348.39" y="263.1" width="2.2" height="9.9" fill="#089981"/>
<rect x="351.24" y="249.0" width="1" height="14.4" fill="#089981" fill-opacity="0.9"/>
<rect x="350.63" y="250.5" width="2.2" height="12.9" fill="#089981"/>
<rect x="353.48" y="244.0" width="1" height="6.8" fill="#089981" fill-opacity="0.9"/>
<rect x="352.88" y="244.0" width="2.2" height="6.8" fill="#089981"/>
<rect x="355.72" y="234.0" width="1" height="18.6" fill="#f23645" fill-opacity="0.9"/>
<rect x="355.12" y="244.3" width="2.2" height="1.7" fill="#f23645"/>
<rect x="357.97" y="233.0" width="1" height="23.3" fill="#f23645" fill-opacity="0.9"/>
<rect x="357.37" y="245.2" width="2.2" height="5.4" fill="#f23645"/>
<rect x="360.21" y="234.0" width="1" height="21.4" fill="#089981" fill-opacity="0.9"/>
<rect x="359.61" y="240.1" width="2.2" height="11.4" fill="#089981"/>
<rect x="362.45" y="233.0" width="1" height="13.8" fill="#089981" fill-opacity="0.9"/>
<rect x="361.85" y="233.0" width="2.2" height="4.6" fill="#089981"/>
<rect x="364.70" y="222.2" width="1" height="17.9" fill="#089981" fill-opacity="0.9"/>
<rect x="364.10" y="224.7" width="2.2" height="10.3" fill="#089981"/>
<rect x="366.94" y="217.6" width="1" height="10.2" fill="#f23645" fill-opacity="0.9"/>
<rect x="366.34" y="223.2" width="2.2" height="4.6" fill="#f23645"/>
<rect x="369.18" y="217.0" width="1" height="10.3" fill="#f23645" fill-opacity="0.9"/>
<rect x="368.58" y="224.7" width="2.2" height="2.6" fill="#f23645"/>
<rect x="371.43" y="222.7" width="1" height="12.8" fill="#089981" fill-opacity="0.9"/>
<rect x="370.83" y="222.7" width="2.2" height="3.1" fill="#089981"/>
<rect x="373.67" y="208.3" width="1" height="26.7" fill="#089981" fill-opacity="0.9"/>
<rect x="373.07" y="222.2" width="2.2" height="3.6" fill="#089981"/>
<rect x="375.91" y="211.4" width="1" height="19.5" fill="#089981" fill-opacity="0.9"/>
<rect x="375.31" y="211.4" width="2.2" height="10.8" fill="#089981"/>
<rect x="378.16" y="211.4" width="1" height="14.4" fill="#f23645" fill-opacity="0.9"/>
<rect x="377.56" y="211.4" width="2.2" height="14.4" fill="#f23645"/>
<rect x="380.40" y="215.5" width="1" height="22.6" fill="#f23645" fill-opacity="0.9"/>
<rect x="379.80" y="225.3" width="2.2" height="10.2" fill="#f23645"/>
<rect x="382.64" y="227.3" width="1" height="6.7" fill="#089981" fill-opacity="0.9"/>
<rect x="382.04" y="227.3" width="2.2" height="6.7" fill="#089981"/>
<rect x="384.89" y="222.2" width="1" height="27.2" fill="#f23645" fill-opacity="0.9"/>
<rect x="384.29" y="227.3" width="2.2" height="22.1" fill="#f23645"/>
<rect x="387.13" y="225.8" width="1" height="23.1" fill="#089981" fill-opacity="0.9"/>
<rect x="386.53" y="239.6" width="2.2" height="9.3" fill="#089981"/>
<rect x="389.37" y="228.9" width="1" height="10.7" fill="#089981" fill-opacity="0.9"/>
<rect x="388.77" y="228.9" width="2.2" height="10.7" fill="#089981"/>
<rect x="391.62" y="225.3" width="1" height="8.2" fill="#089981" fill-opacity="0.9"/>
<rect x="391.02" y="228.3" width="2.2" height="2.6" fill="#089981"/>
<rect x="393.86" y="221.7" width="1" height="10.2" fill="#f23645" fill-opacity="0.9"/>
<rect x="393.26" y="228.9" width="2.2" height="3.0" fill="#f23645"/>
<rect x="396.11" y="223.7" width="1" height="7.2" fill="#089981" fill-opacity="0.9"/>
<rect x="395.50" y="226.8" width="2.2" height="4.1" fill="#089981"/>
<rect x="398.35" y="225.8" width="1" height="17.4" fill="#f23645" fill-opacity="0.9"/>
<rect x="397.75" y="225.8" width="2.2" height="6.6" fill="#f23645"/>
<rect x="400.59" y="225.8" width="1" height="6.1" fill="#089981" fill-opacity="0.9"/>
<rect x="399.99" y="228.9" width="2.2" height="3.0" fill="#089981"/>
<rect x="402.84" y="222.2" width="1" height="6.7" fill="#089981" fill-opacity="0.9"/>
<rect x="402.24" y="222.2" width="2.2" height="6.7" fill="#089981"/>
<rect x="405.08" y="217.0" width="1" height="14.4" fill="#f23645" fill-opacity="0.9"/>
<rect x="404.48" y="222.2" width="2.2" height="9.2" fill="#f23645"/>
<rect x="407.32" y="226.8" width="1" height="6.7" fill="#089981" fill-opacity="0.9"/>
<rect x="406.72" y="226.8" width="2.2" height="6.7" fill="#089981"/>
<rect x="409.57" y="224.2" width="1" height="3.1" fill="#089981" fill-opacity="0.9"/>
<rect x="408.97" y="226.3" width="2.2" height="1.0" fill="#089981"/>
<rect x="411.81" y="223.2" width="1" height="9.2" fill="#f23645" fill-opacity="0.9"/>
<rect x="411.21" y="226.8" width="2.2" height="1.5" fill="#f23645"/>
<rect x="414.05" y="223.2" width="1" height="5.1" fill="#089981" fill-opacity="0.9"/>
<rect x="413.45" y="227.3" width="2.2" height="1.0" fill="#089981"/>
<rect x="416.30" y="227.8" width="1" height="6.2" fill="#089981" fill-opacity="0.9"/>
<rect x="415.70" y="227.8" width="2.2" height="6.2" fill="#089981"/>
<rect x="418.54" y="221.2" width="1" height="12.8" fill="#f23645" fill-opacity="0.9"/>
<rect x="417.94" y="226.8" width="2.2" height="7.2" fill="#f23645"/>
<rect x="420.78" y="224.7" width="1" height="8.8" fill="#089981" fill-opacity="0.9"/>
<rect x="420.18" y="228.0" width="2.2" height="5.5" fill="#089981"/>
<rect x="423.03" y="226.3" width="1" height="21.5" fill="#f23645" fill-opacity="0.9"/>
<rect x="422.43" y="229.9" width="2.2" height="14.8" fill="#f23645"/>
<rect x="425.27" y="225.8" width="1" height="19.7" fill="#089981" fill-opacity="0.9"/>
<rect x="424.67" y="225.8" width="2.2" height="19.7" fill="#089981"/>
<rect x="427.51" y="219.1" width="1" height="10.8" fill="#089981" fill-opacity="0.9"/>
<rect x="426.91" y="219.1" width="2.2" height="8.2" fill="#089981"/>
<rect x="429.76" y="224.2" width="1" height="16.2" fill="#f23645" fill-opacity="0.9"/>
<rect x="429.16" y="226.0" width="2.2" height="14.4" fill="#f23645"/>
<rect x="432.00" y="234.0" width="1" height="9.7" fill="#f23645" fill-opacity="0.9"/>
<rect x="431.40" y="234.0" width="2.2" height="6.6" fill="#f23645"/>
<rect x="434.24" y="229.3" width="1" height="14.2" fill="#089981" fill-opacity="0.9"/>
<rect x="433.64" y="232.9" width="2.2" height="8.3" fill="#089981"/>
<rect x="436.49" y="229.3" width="1" height="12.1" fill="#f23645" fill-opacity="0.9"/>
<rect x="435.89" y="231.9" width="2.2" height="9.5" fill="#f23645"/>
<rect x="438.73" y="232.9" width="1" height="9.5" fill="#089981" fill-opacity="0.9"/>
<rect x="438.13" y="232.9" width="2.2" height="8.3" fill="#089981"/>
<rect x="440.98" y="226.8" width="1" height="23.2" fill="#089981" fill-opacity="0.9"/>
<rect x="440.38" y="226.8" width="2.2" height="12.8" fill="#089981"/>
<rect x="443.22" y="223.2" width="1" height="7.7" fill="#089981" fill-opacity="0.9"/>
<rect x="442.62" y="223.2" width="2.2" height="7.7" fill="#089981"/>
<rect x="445.46" y="217.8" width="1" height="19.0" fill="#f23645" fill-opacity="0.9"/>
<rect x="444.86" y="224.0" width="2.2" height="8.7" fill="#f23645"/>
<rect x="447.71" y="227.0" width="1" height="14.7" fill="#089981" fill-opacity="0.9"/>
<rect x="447.11" y="227.0" width="2.2" height="1.6" fill="#089981"/>
<rect x="449.95" y="222.7" width="1" height="5.1" fill="#f23645" fill-opacity="0.9"/>
<rect x="449.35" y="222.7" width="2.2" height="5.1" fill="#f23645"/>
<rect x="452.19" y="218.1" width="1" height="16.6" fill="#f23645" fill-opacity="0.9"/>
<rect x="451.59" y="226.0" width="2.2" height="3.9" fill="#f23645"/>
<rect x="454.44" y="215.0" width="1" height="12.6" fill="#089981" fill-opacity="0.9"/>
<rect x="453.84" y="222.2" width="2.2" height="5.4" fill="#089981"/>
<rect x="456.68" y="190.9" width="1" height="31.8" fill="#089981" fill-opacity="0.9"/>
<rect x="456.08" y="196.5" width="2.2" height="26.2" fill="#089981"/>
<rect x="458.92" y="191.9" width="1" height="8.7" fill="#089981" fill-opacity="0.9"/>
<rect x="458.32" y="195.0" width="2.2" height="2.0" fill="#089981"/>
<rect x="461.17" y="177.5" width="1" height="23.7" fill="#089981" fill-opacity="0.9"/>
<rect x="460.57" y="177.5" width="2.2" height="20.1" fill="#089981"/>
<rect x="463.41" y="165.3" width="1" height="12.2" fill="#089981" fill-opacity="0.9"/>
<rect x="462.81" y="165.3" width="2.2" height="12.2" fill="#089981"/>
<rect x="465.65" y="160.3" width="1" height="9.9" fill="#089981" fill-opacity="0.9"/>
<rect x="465.05" y="160.3" width="2.2" height="9.9" fill="#089981"/>
<rect x="467.90" y="153.2" width="1" height="13.3" fill="#089981" fill-opacity="0.9"/>
<rect x="467.30" y="163.4" width="2.2" height="2.5" fill="#089981"/>
<rect x="470.14" y="150.2" width="1" height="12.3" fill="#089981" fill-opacity="0.9"/>
<rect x="469.54" y="150.2" width="2.2" height="12.3" fill="#089981"/>
<rect x="472.38" y="136.2" width="1" height="13.6" fill="#089981" fill-opacity="0.9"/>
<rect x="471.78" y="143.2" width="2.2" height="6.6" fill="#089981"/>
<rect x="474.63" y="134.6" width="1" height="13.5" fill="#f23645" fill-opacity="0.9"/>
<rect x="474.03" y="142.8" width="2.2" height="1.0" fill="#f23645"/>
<rect x="476.87" y="138.3" width="1" height="15.6" fill="#f23645" fill-opacity="0.9"/>
<rect x="476.27" y="143.6" width="2.2" height="9.4" fill="#f23645"/>
<rect x="479.11" y="151.1" width="1" height="12.3" fill="#f23645" fill-opacity="0.9"/>
<rect x="478.51" y="151.1" width="2.2" height="12.3" fill="#f23645"/>
<rect x="481.36" y="153.2" width="1" height="11.1" fill="#089981" fill-opacity="0.9"/>
<rect x="480.76" y="159.1" width="2.2" height="5.2" fill="#089981"/>
<rect x="483.60" y="147.7" width="1" height="10.8" fill="#089981" fill-opacity="0.9"/>
<rect x="483.00" y="147.7" width="2.2" height="10.8" fill="#089981"/>
<rect x="485.84" y="123.9" width="1" height="23.4" fill="#089981" fill-opacity="0.9"/>
<rect x="485.24" y="126.8" width="2.2" height="20.5" fill="#089981"/>
<rect x="488.09" y="123.9" width="1" height="8.6" fill="#f23645" fill-opacity="0.9"/>
<rect x="487.49" y="126.4" width="2.2" height="1.2" fill="#f23645"/>
<rect x="490.33" y="114.9" width="1" height="12.7" fill="#089981" fill-opacity="0.9"/>
<rect x="489.73" y="119.0" width="2.2" height="8.6" fill="#089981"/>
<rect x="492.58" y="119.0" width="1" height="9.0" fill="#f23645" fill-opacity="0.9"/>
<rect x="491.98" y="119.0" width="2.2" height="6.6" fill="#f23645"/>
<rect x="494.82" y="116.1" width="1" height="10.7" fill="#f23645" fill-opacity="0.9"/>
<rect x="494.22" y="123.9" width="2.2" height="1.0" fill="#f23645"/>
<rect x="497.06" y="117.3" width="1" height="8.3" fill="#089981" fill-opacity="0.9"/>
<rect x="496.46" y="120.6" width="2.2" height="5.0" fill="#089981"/>
<rect x="499.31" y="119.4" width="1" height="11.1" fill="#f23645" fill-opacity="0.9"/>
<rect x="498.71" y="119.4" width="2.2" height="3.7" fill="#f23645"/>
<rect x="501.55" y="116.1" width="1" height="6.2" fill="#089981" fill-opacity="0.9"/>
<rect x="500.95" y="116.1" width="2.2" height="6.2" fill="#089981"/>
<rect x="503.79" y="115.0" width="1" height="2.0" fill="#089981" fill-opacity="0.9"/>
<rect x="503.19" y="115.0" width="2.2" height="2.0" fill="#089981"/>
<rect x="506.04" y="115.0" width="1" height="5.0" fill="#f23645" fill-opacity="0.9"/>
<rect x="505.44" y="115.0" width="2.2" height="5.0" fill="#f23645"/>
<rect x="508.28" y="115.3" width="1" height="12.7" fill="#f23645" fill-opacity="0.9"/>
<rect x="507.68" y="115.3" width="2.2" height="11.5" fill="#f23645"/>
<rect x="510.52" y="118.2" width="1" height="13.9" fill="#089981" fill-opacity="0.9"/>
<rect x="509.92" y="118.2" width="2.2" height="8.2" fill="#089981"/>
<rect x="512.77" y="115.7" width="1" height="3.7" fill="#089981" fill-opacity="0.9"/>
<rect x="512.17" y="115.7" width="2.2" height="3.7" fill="#089981"/>
<rect x="515.01" y="115.3" width="1" height="4.1" fill="#089981" fill-opacity="0.9"/>
<rect x="514.41" y="115.3" width="2.2" height="4.1" fill="#089981"/>
<rect x="517.25" y="115.3" width="1" height="2.9" fill="#089981" fill-opacity="0.9"/>
<rect x="516.65" y="115.3" width="2.2" height="2.9" fill="#089981"/>
<line x1="217" y1="278.6" x2="458" y2="197" stroke="#9a8c90" stroke-width="1.1" stroke-dasharray="3.6,4" stroke-dashoffset="1"/>
<line x1="75" y1="496" x2="574" y2="496" stroke="#eeeff2" stroke-width="1"/>
<text x="545" y="148.9" text-anchor="middle" font-size="10" fill="#3b3e46" stroke="#3b3e46" stroke-width="0.2">202.00</text>
<text x="545" y="184.3" text-anchor="middle" font-size="10" fill="#3b3e46" stroke="#3b3e46" stroke-width="0.2">201.50</text>
<text x="545" y="219.7" text-anchor="middle" font-size="10" fill="#3b3e46" stroke="#3b3e46" stroke-width="0.2">201.00</text>
<text x="545" y="255.1" text-anchor="middle" font-size="10" fill="#3b3e46" stroke="#3b3e46" stroke-width="0.2">200.50</text>
<text x="545" y="290.5" text-anchor="middle" font-size="10" fill="#3b3e46" stroke="#3b3e46" stroke-width="0.2">200.00</text>
<text x="545" y="325.9" text-anchor="middle" font-size="10" fill="#3b3e46" stroke="#3b3e46" stroke-width="0.2">199.50</text>
<text x="545" y="361.3" text-anchor="middle" font-size="10" fill="#3b3e46" stroke="#3b3e46" stroke-width="0.2">199.00</text>
<text x="545" y="432.1" text-anchor="middle" font-size="10" fill="#3b3e46" stroke="#3b3e46" stroke-width="0.2">198.00</text>
<text x="545" y="467.5" text-anchor="middle" font-size="10" fill="#3b3e46" stroke="#3b3e46" stroke-width="0.2">197.50</text>
<rect x="522.8" y="190" width="41.2" height="13.8" rx="1.5" fill="#089981"/>
<text x="545" y="200.5" text-anchor="middle" font-size="10" fill="#fff" stroke="#fff" stroke-width="0.35">201.27</text>
<rect x="522.8" y="292.2" width="41.2" height="13.5" rx="1.5" fill="#787b86"/>
<text x="545" y="302.6" text-anchor="middle" font-size="10" fill="#fff" stroke="#fff" stroke-width="0.35">199.83</text>
<rect x="522.8" y="381.5" width="41.2" height="14" rx="1.5" fill="#5d606b"/>
<text x="545" y="392.1" text-anchor="middle" font-size="10" fill="#fff" stroke="#fff" stroke-width="0.35">198.56</text>
<rect x="522.8" y="395.5" width="41.2" height="14.3" rx="1.5" fill="#f23645"/>
<text x="545" y="406.2" text-anchor="middle" font-size="10" fill="#fff" stroke="#fff" stroke-width="0.35">198.44</text>
<rect x="522.7" y="460.8" width="47.5" height="13.2" rx="2" fill="#fff" stroke="#7fcfc3" stroke-width="1"/>
<text x="547.5" y="471" text-anchor="middle" font-size="10" fill="#22ab94" stroke="#22ab94" stroke-width="0.3">28.664K</text>
<text x="104.5" y="511.6" text-anchor="middle" font-size="10" font-weight="bold" fill="#2a2d35">Mar</text>
<text x="183" y="511.6" text-anchor="middle" font-size="10" fill="#3b3e46" stroke="#3b3e46" stroke-width="0.2">07:05</text>
<text x="306.4" y="511.6" text-anchor="middle" font-size="10" fill="#3b3e46" stroke="#3b3e46" stroke-width="0.2">08:00</text>
<text x="441" y="511.6" text-anchor="middle" font-size="10" fill="#3b3e46" stroke="#3b3e46" stroke-width="0.2">09:00</text>
<rect x="484.5" y="448.7" width="21.8" height="20" rx="4" fill="#000" fill-opacity="0.06" filter="url(#sh)"/><rect x="484.5" y="448.2" width="21.8" height="20" rx="4" fill="#fff" stroke="#f0f1f4" stroke-width="0.8"/>
<path d="M491 454.4 L493.8 458.1 L491 461.8 M494.4 453.1 L499 458.1 L494.4 463.2" fill="none" stroke="#131722" stroke-width="1.3"/>
<polygon points="554.80,508.00 551.80,512.85 545.80,512.85 542.80,508.00 545.80,503.15 551.80,503.15" fill="none" stroke="#50535e" stroke-width="1.1"/>
<circle cx="548.8" cy="508" r="1.7" fill="none" stroke="#50535e" stroke-width="1.1"/>
<rect x="574" y="118" width="1.8" height="401" fill="#dfe4ec"/>
<rect x="575.6" y="228.4" width="1.6" height="26" fill="#4a7cf0"/>
</svg></div>
<div class="a" style="left:74px;top:541px;width:56px;height:34px;border-radius:17px;background:#f5f5f5"></div>
<svg class="a" style="left:80px;top:543px" width="28" height="30" viewBox="0 0 28 30">
<path d="M13.3 4 C15.5 6.5 19.5 9 19.5 13.5 C20.5 13 21 12.8 21.5 13.2 C23 15.5 23 18 22.2 21 C21 24.5 17.5 26 13.8 26 C9.5 26 6 24 5.2 20.5 C4.6 17.5 5.2 15 6.5 13.2 C7 12 7.2 11 7.5 9.5 C8.5 10.8 9.6 11.8 10.3 12 C10.5 9 11.5 6.2 13.3 4 Z" fill="#ee3f4d"/>
<path d="M14 8 C16 11 18.5 14 18.8 18 C19 22 16.5 25 13.8 25 C10.5 25 8 23 8 19.5 C8 16 10.5 14.5 11.3 12.5 C12 11 13 9.5 14 8 Z" fill="#ff8c1a"/>
<path d="M13.5 14.5 C15.5 16.5 17.5 18.5 17.5 21 C17.5 23.5 15.5 25 13.5 25 C11 25 9.5 23.5 9.5 21.5 C9.5 19 11.8 16.5 13.5 14.5 Z" fill="#ffd43b"/>
<ellipse cx="13.8" cy="22.6" rx="2.2" ry="2.4" fill="#fff4d8"/>
</svg>
<div class="a" style="left:111px;top:550px;font-size:15px;line-height:15px;color:#1d1c1d">9</div>
<div class="a" style="left:136px;top:541px;width:47px;height:34px;border-radius:17px;background:#f5f5f5"></div>
<svg class="a" style="left:144px;top:542px" width="32" height="32" viewBox="0 0 32 32">
<path d="M22.15 15.83 A8.3 8.3 0 1 1 14.77 8.45" fill="none" stroke="#505050" stroke-width="2.1" stroke-linecap="round"/>
<circle cx="11.5" cy="14.5" r="1.45" fill="#505050"/>
<circle cx="17.2" cy="14.5" r="1.45" fill="#505050"/>
<path d="M10.1 18.5 L18.6 18.5 Q18.3 22.2 14.35 22.2 Q10.4 22.2 10.1 18.5 Z" fill="#505050"/>
<path d="M22.7 4.4 V12.6 M18.6 8.5 H26.8" stroke="#505050" stroke-width="2" stroke-linecap="round"/>
</svg>
</body></html>
